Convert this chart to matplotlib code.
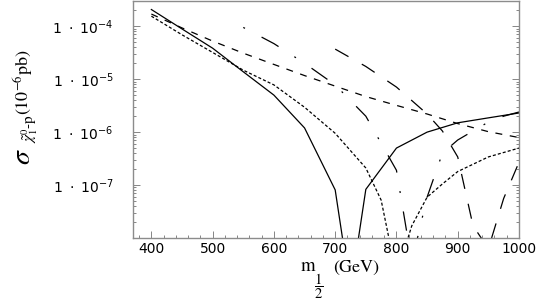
import matplotlib
matplotlib.use('Agg')
import matplotlib.pyplot as plt
from matplotlib.ticker import FixedLocator, FixedFormatter, LogLocator, NullFormatter, MultipleLocator

plt.rcParams['lines.scale_dashes'] = False

# ---- data ----
solid_x = [400, 450, 500, 550, 600, 650, 700, 725, 750, 800, 850, 900, 950, 1000]
solid_y = [2.07e-4, 8.9e-5, 3.85e-5, 1.38e-5, 5.0e-6, 1.2e-6, 8.1e-8, 1.0e-9,
           8.3e-8, 5.0e-7, 1.0e-6, 1.5e-6, 1.86e-6, 2.3e-6]

dotted_x = [400, 450, 500, 550, 600, 650, 700, 750, 775, 800, 825, 850, 875, 900, 950, 1000]
dotted_y = [1.55e-4, 6.9e-5, 3.2e-5, 1.48e-5, 7.8e-6, 2.95e-6, 9.5e-7, 2.1e-7,
            5.2e-8, 2.0e-9, 1.7e-8, 5.9e-8, 1.05e-7, 1.8e-7, 3.4e-7, 5.0e-7]

dashed_x = [400, 450, 500, 550, 600, 650, 700, 750, 800, 850, 900, 950, 1000]
dashed_y = [1.7e-4, 9.3e-5, 5.25e-5, 3.1e-5, 1.9e-5, 1.17e-5, 7.4e-6, 4.7e-6,
            3.2e-6, 2.2e-6, 1.45e-6, 1.02e-6, 7.9e-7]

dashdot_x = [550, 600, 650, 700, 750, 800, 825, 850, 875, 900, 925, 950, 975, 1000]
dashdot_y = [9.5e-5, 4.7e-5, 2.0e-5, 7.8e-6, 2.0e-6, 1.9e-7, 3.5e-9, 5.9e-8,
             4.0e-7, 7.1e-7, 1.05e-6, 1.55e-6, 2.0e-6, 2.4e-6]

longdash_x = [700, 750, 800, 850, 875, 900, 925, 950, 975, 1000]
longdash_y = [3.7e-5, 1.74e-5, 7.1e-6, 2.2e-6, 1.05e-6, 3.4e-7, 1.7e-8, 6.3e-9,
              5.6e-8, 2.7e-7]

x_ticks = [400, 500, 600, 700, 800, 900, 1000]
x_ticklabels = ['400', '500', '600', '700', '800', '900', '1000']
y_ticks = [1e-4, 1e-5, 1e-6, 1e-7, 1e-8]
y_ticklabels = [r'$1\ \cdot\ 10^{-4}$', r'$1\ \cdot\ 10^{-5}$',
                r'$1\ \cdot\ 10^{-6}$', r'$1\ \cdot\ 10^{-7}$', '']

W, H = 545, 306
fig = plt.figure(figsize=(W / 100, H / 100), dpi=100)
L, R, T, B = 133, 519, 1, 238
ax = fig.add_axes([L / W, 1 - B / H, (R - L) / W, (B - T) / H])

lw = 0.9
ax.plot(solid_x, solid_y, color='black', lw=lw, linestyle='-')
ax.plot(dotted_x, dotted_y, color='black', lw=lw, linestyle=(0, (2.2, 1.5)))
ax.plot(dashed_x, dashed_y, color='black', lw=lw, linestyle=(0, (5.0, 5.5)))
ax.plot(dashdot_x, dashdot_y, color='black', lw=lw, linestyle=(0, (1.4, 13.5, 14.0, 13.5)))
ax.plot(longdash_x, longdash_y, color='black', lw=lw, linestyle=(0, (11.0, 11.0)))

ax.set_yscale('log')
ax.set_xlim(370, 1000)
ax.set_ylim(1e-8, 3e-4)

ax.xaxis.set_major_locator(FixedLocator(x_ticks))
ax.xaxis.set_major_formatter(FixedFormatter(x_ticklabels))
ax.xaxis.set_minor_locator(MultipleLocator(20))
ax.yaxis.set_major_locator(FixedLocator(y_ticks))
ax.yaxis.set_major_formatter(FixedFormatter(y_ticklabels))
ax.yaxis.set_minor_locator(LogLocator(base=10, subs=range(2, 10), numticks=20))
ax.yaxis.set_minor_formatter(NullFormatter())

tc = '0.45'
ax.tick_params(axis='both', which='both', direction='in', colors=tc,
               labelcolor='black', top=False, right=True, width=0.6)
ax.tick_params(axis='both', which='major', length=5)
ax.tick_params(axis='both', which='minor', length=2.5)
ax.tick_params(axis='x', which='major', pad=3, labelsize=10)
ax.tick_params(axis='y', which='major', pad=14, labelsize=10)
for lab in ax.get_yticklabels():
    lab.set_math_fontfamily('dejavusans')

for s in ax.spines.values():
    s.set_color('0.55')
    s.set_linewidth(1.0)

def px(x, y):
    return x / W, 1 - y / H

# x label: m_{1/2} (GeV)
fig.text(*px(300, 271), r'$\mathrm{m}$', ha='left', va='baseline',
         fontsize=13.5, math_fontfamily='stix')
fig.text(*px(319, 286), r'$\dfrac{1}{2}$', ha='center', va='center',
         fontsize=10.5, math_fontfamily='stix')
fig.text(*px(333, 272), r'$\mathrm{(GeV)}$', ha='left', va='baseline',
         fontsize=13, math_fontfamily='stix')

# y label: sigma_{chi-p}(10^-6 pb)
fig.text(*px(22, 157), r'$\sigma$', ha='center', va='center', rotation=90,
         fontsize=20, math_fontfamily='stix')
fig.text(*px(30, 128), r'$\tilde{\chi}^{0}_{1}\mathrm{\text{-}p}$', ha='center', va='center',
         rotation=90, fontsize=11, math_fontfamily='stix')
fig.text(*px(24, 82), r'$\mathrm{(10^{-6}pb)}$', ha='center', va='center', rotation=90,
         fontsize=13, math_fontfamily='stix')

fig.savefig('out.png', dpi=100)
